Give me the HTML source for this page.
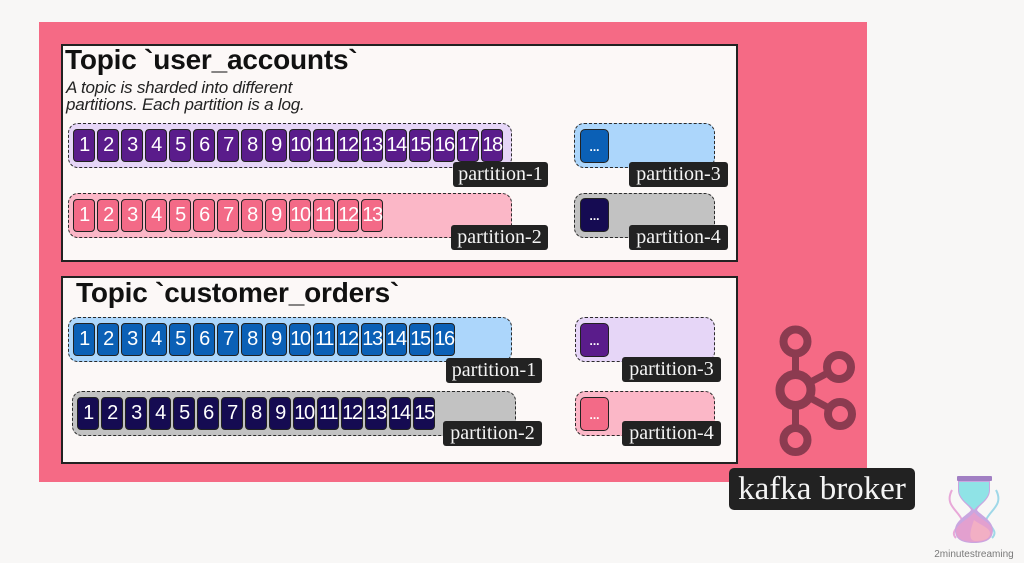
<!DOCTYPE html>
<html>
<head>
<meta charset="utf-8">
<style>
*{margin:0;padding:0;box-sizing:border-box;}
html,body{width:1024px;height:563px;overflow:hidden;background:#f8f7f6;}
body{position:relative;font-family:"Liberation Sans",sans-serif;}
.abs{position:absolute;}
.pink{left:39px;top:22px;width:828px;height:460px;background:#f56a85;}
.box{background:#fcf8f7;border:2px solid #222;}
.title{font-weight:bold;font-size:28px;line-height:28px;color:#111;letter-spacing:-0.2px;white-space:nowrap;}
.sub{font-style:italic;font-size:17px;color:#222;line-height:17px;white-space:nowrap;letter-spacing:-0.2px;}
.cont{border:1.5px dashed #2a2a2a;border-radius:10px;height:45px;}
.row{display:flex;gap:2px;}
.c{width:22px;height:33px;border:1px solid #222;border-radius:4px;color:#fff;font-size:20px;line-height:31px;text-align:center;letter-spacing:-1.4px;overflow:visible;white-space:nowrap;}
.pu .c{background:#5a1c8b;}
.pk .c{background:#f36a87;}
.bl .c{background:#0b60b6;}
.nv .c{background:#150b52;}
.lab{background:#222;border-radius:3px;color:#f4f4f4;font-family:"Liberation Serif",serif;font-size:20px;line-height:25px;height:25px;text-align:center;white-space:nowrap;}
.sm{width:29px;height:34px;border:1px solid #222;border-radius:5px;color:#fff;font-size:12px;text-align:center;line-height:34px;font-weight:bold;}
</style>
</head>
<body>
<div class="abs pink"></div>

<!-- Box 1 -->
<div class="abs box" style="left:61px;top:44px;width:677px;height:218px;"></div>
<div class="abs title" style="left:65px;top:46px;">Topic `user_accounts`</div>
<div class="abs sub" style="left:66px;top:79px;">A topic is sharded into different<br>partitions. Each partition is a log.</div>

<div class="abs cont" style="left:68px;top:123px;width:444px;background:#e6d6f7;"></div>
<div class="abs row pu" style="left:73px;top:129px;">
<div class="c">1</div><div class="c">2</div><div class="c">3</div><div class="c">4</div><div class="c">5</div><div class="c">6</div><div class="c">7</div><div class="c">8</div><div class="c">9</div><div class="c">10</div><div class="c">11</div><div class="c">12</div><div class="c">13</div><div class="c">14</div><div class="c">15</div><div class="c">16</div><div class="c">17</div><div class="c">18</div>
</div>
<div class="abs lab" style="left:453px;top:162px;width:95px;">partition-1</div>

<div class="abs cont" style="left:68px;top:193px;width:444px;background:#fbb7c7;"></div>
<div class="abs row pk" style="left:73px;top:199px;">
<div class="c">1</div><div class="c">2</div><div class="c">3</div><div class="c">4</div><div class="c">5</div><div class="c">6</div><div class="c">7</div><div class="c">8</div><div class="c">9</div><div class="c">10</div><div class="c">11</div><div class="c">12</div><div class="c">13</div>
</div>
<div class="abs lab" style="left:451px;top:225px;width:97px;">partition-2</div>

<div class="abs cont" style="left:574px;top:123px;width:141px;background:#acd6fb;"></div>
<div class="abs sm" style="left:580px;top:129px;background:#0b60b6;">...</div>
<div class="abs lab" style="left:629px;top:162px;width:99px;">partition-3</div>

<div class="abs cont" style="left:574px;top:193px;width:141px;background:#c2c2c2;"></div>
<div class="abs sm" style="left:580px;top:198px;background:#150b52;">...</div>
<div class="abs lab" style="left:629px;top:225px;width:99px;">partition-4</div>

<!-- Box 2 -->
<div class="abs box" style="left:61px;top:276px;width:677px;height:188px;"></div>
<div class="abs title" style="left:76px;top:279px;">Topic `customer_orders`</div>

<div class="abs cont" style="left:68px;top:317px;width:444px;background:#acd6fb;"></div>
<div class="abs row bl" style="left:73px;top:323px;">
<div class="c">1</div><div class="c">2</div><div class="c">3</div><div class="c">4</div><div class="c">5</div><div class="c">6</div><div class="c">7</div><div class="c">8</div><div class="c">9</div><div class="c">10</div><div class="c">11</div><div class="c">12</div><div class="c">13</div><div class="c">14</div><div class="c">15</div><div class="c">16</div>
</div>
<div class="abs lab" style="left:446px;top:358px;width:96px;">partition-1</div>

<div class="abs cont" style="left:72px;top:391px;width:444px;background:#c2c2c2;"></div>
<div class="abs row nv" style="left:77px;top:397px;">
<div class="c">1</div><div class="c">2</div><div class="c">3</div><div class="c">4</div><div class="c">5</div><div class="c">6</div><div class="c">7</div><div class="c">8</div><div class="c">9</div><div class="c">10</div><div class="c">11</div><div class="c">12</div><div class="c">13</div><div class="c">14</div><div class="c">15</div>
</div>
<div class="abs lab" style="left:443px;top:421px;width:99px;">partition-2</div>

<div class="abs cont" style="left:575px;top:317px;width:140px;background:#e6d6f7;"></div>
<div class="abs sm" style="left:580px;top:323px;background:#5a1c8b;">...</div>
<div class="abs lab" style="left:622px;top:357px;width:99px;">partition-3</div>

<div class="abs cont" style="left:575px;top:391px;width:140px;background:#fbb7c7;"></div>
<div class="abs sm" style="left:580px;top:397px;background:#f36a87;">...</div>
<div class="abs lab" style="left:622px;top:421px;width:99px;">partition-4</div>

<!-- Kafka logo -->
<svg class="abs" style="left:0;top:0;" width="1024" height="563">
<g stroke="#8c3b50" fill="none">
<line x1="795.5" y1="352" x2="795.5" y2="430" stroke-width="7"/>
<line x1="795.5" y1="390" x2="839" y2="367" stroke-width="7"/>
<line x1="795.5" y1="390" x2="840" y2="414" stroke-width="7"/>
<circle cx="795.5" cy="390" r="15.5" stroke-width="9" fill="#f56a85"/>
<circle cx="795.5" cy="341.5" r="12" stroke-width="8" fill="#f56a85"/>
<circle cx="795.5" cy="440" r="12" stroke-width="8" fill="#f56a85"/>
<circle cx="839" cy="367" r="12" stroke-width="8" fill="#f56a85"/>
<circle cx="840" cy="414" r="12" stroke-width="8" fill="#f56a85"/>
</g>
<!-- hourglass -->
<g>
<path d="M952 490 C944 505 958 510 962 520 C958 528 950 532 956 538" stroke="#e8a8d8" stroke-width="2" fill="none"/>
<path d="M996 490 C1004 505 990 510 986 520 C992 528 998 532 992 538" stroke="#9fd8e8" stroke-width="2" fill="none"/>
<path d="M958 481 L990 481 L990 490 C990 500 979 505 977 510 C979 514 993 520 993 530 C993 540 985 543 974 543 C963 543 955 540 955 530 C955 520 969 514 971 510 C969 505 958 500 958 490 Z" fill="#c9a6e0"/>
<path d="M959 482 L989 482 L989 490 C989 499 979 504 974 510 C969 504 959 499 959 490 Z" fill="#8fe3e6"/>
<path d="M974 512 C980 520 992 522 992 531 C992 539 984 542 974 542 C964 542 956 539 956 531 C956 524 968 520 974 512 Z" fill="#e3a0cf"/>
<path d="M974 520 C982 526 990 528 990 533 C990 539 984 541 976 541 C970 541 968 536 974 520 Z" fill="#f2afc4"/>
<rect x="957" y="476" width="35" height="5" rx="1" fill="#a17fc3"/>
</g>
<text x="974" y="557" font-family="Liberation Sans, sans-serif" font-size="10" fill="#7a7a7a" text-anchor="middle">2minutestreaming</text>
</svg>

<div class="abs lab" style="left:729px;top:468px;width:186px;height:42px;line-height:42px;font-size:33px;border-radius:5px;">kafka broker</div>
</body>
</html>
